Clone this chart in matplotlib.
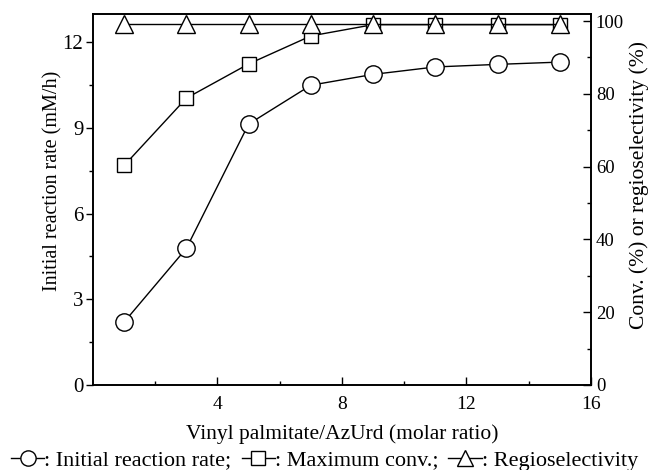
import matplotlib.pyplot as plt
from matplotlib.lines import Line2D
import numpy as np

# molar ratio (vinyl palmitate / AzUrd)
ratio = [1, 3, 5, 7, 9, 11, 13, 15]
# initial reaction rate (mM/h), left axis
rate = [2.2, 4.78, 9.13, 10.49, 10.87, 11.13, 11.22, 11.3]
# maximum conversion (%), right axis
max_conv = [60.3, 78.8, 88.2, 95.9, 99.0, 99.0, 99.0, 99.0]
# regioselectivity (%), right axis
regio = [99.3, 99.3, 99.3, 99.3, 99.3, 99.3, 99.3, 99.3]

plt.rcParams['font.family'] = ['Liberation Serif', 'DejaVu Serif']
plt.rcParams['font.size'] = 13

fig = plt.figure(figsize=(6.49, 4.70), dpi=100)
ax = fig.add_axes([0.1433, 0.181, 0.7673, 0.789])
ax2 = ax.twinx()

mk = dict(color='black', lw=1.0, markerfacecolor='white', markeredgecolor='black',
          markeredgewidth=1.0)
ax.plot(ratio, rate, marker='o', markersize=12.5, zorder=3, **mk)
ax2.plot(ratio, max_conv, marker='s', markersize=10.5, zorder=3, **mk)
ax2.plot(ratio, regio, marker='^', markersize=13, zorder=4, **mk)

ax.set_xlim(0, 16)
ax.set_ylim(0, 12.98)
ax2.set_ylim(0, 101.9)

ax.set_xticks([4, 8, 12, 16])
ax.set_xticks([2, 6, 10, 14], minor=True)
ax.set_yticks([0, 3, 6, 9, 12])
ax.set_yticks([1.5, 4.5, 7.5, 10.5], minor=True)
ax2.set_yticks([0, 20, 40, 60, 80, 100])
ax2.set_yticks([10, 30, 50, 70, 90], minor=True)

ax.tick_params(axis='y', which='both', direction='out', right=False, labelsize=15, pad=2)
ax.tick_params(axis='y', which='major', length=5, width=1.0)
ax.tick_params(axis='y', which='minor', length=3, width=1.0)
ax.tick_params(axis='x', which='both', direction='in', top=False, pad=8, labelsize=14)
ax.tick_params(axis='x', which='major', length=6, width=1.0)
ax.tick_params(axis='x', which='minor', length=3, width=1.0)
ax2.tick_params(axis='y', which='both', direction='in', labelsize=13.5)
ax2.tick_params(which='major', length=6, width=1.0)
ax2.tick_params(which='minor', length=3, width=1.0)

for a in (ax, ax2):
    for s in a.spines.values():
        s.set_linewidth(1.2)

ax.set_xlabel('Vinyl palmitate/AzUrd (molar ratio)', fontsize=15.5, labelpad=8)
ax.set_ylabel('Initial reaction rate (mM/h)', fontsize=14.5)
ax.yaxis.set_label_coords(-0.062, 0.549)
ax2.set_ylabel('Conv. (%) or regioselectivity (%)', fontsize=15.5)
ax2.yaxis.set_label_coords(1.076, 0.539)

handles = [Line2D([], [], marker=m, markersize=s, **mk)
           for m, s in (('o', 11), ('s', 9.5), ('^', 11))]
labels = [': Initial reaction rate;', ': Maximum conv.;', ': Regioselectivity']
fig.legend(handles, labels, ncol=3, loc='lower center', bbox_to_anchor=(0.5, -0.02),
           frameon=False, handlelength=1.5, handletextpad=0.0, columnspacing=0.45,
           borderaxespad=0.0, fontsize=16)

fig.savefig('out.png', dpi=100)
